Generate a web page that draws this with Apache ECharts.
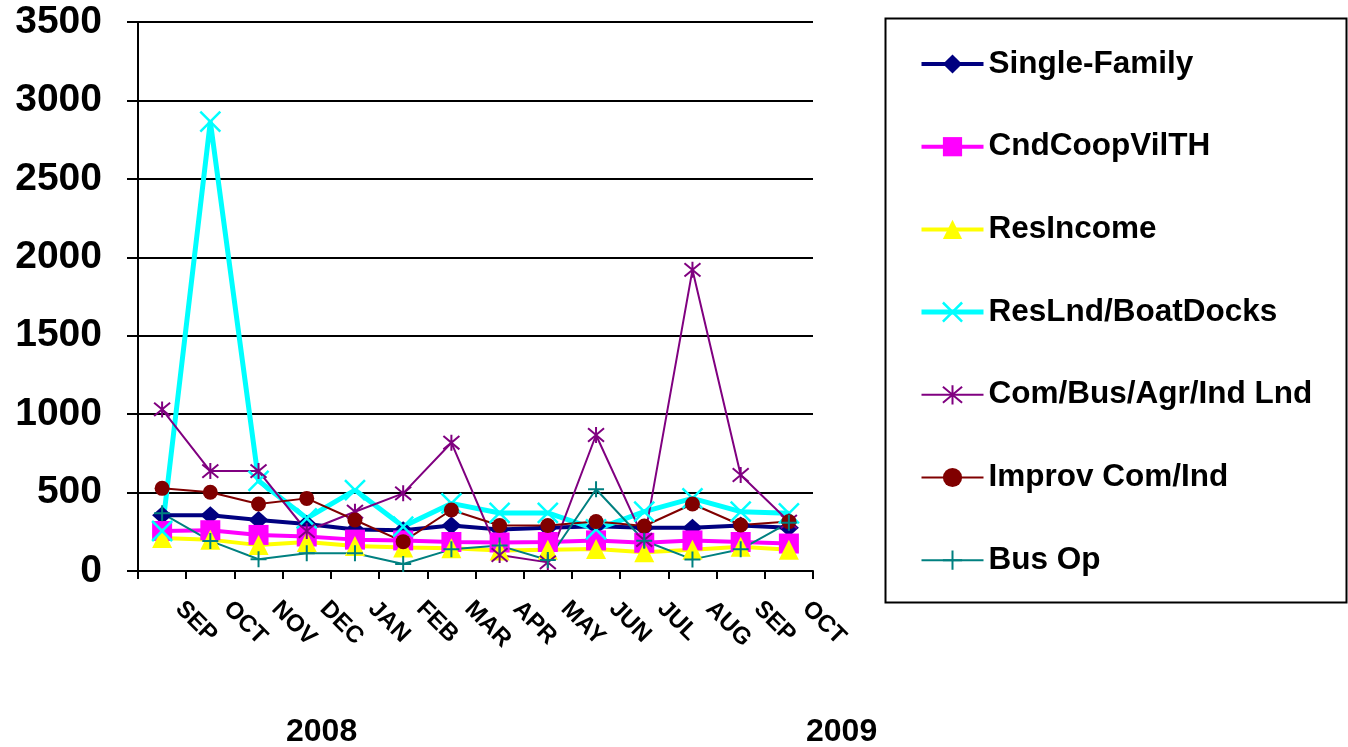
<!DOCTYPE html>
<html>
<head>
<meta charset="utf-8">
<script src="https://cdn.jsdelivr.net/npm/echarts@6/dist/echarts.min.js"></script>
<style>
html,body{margin:0;padding:0;background:#fff;}
#chart{width:1348px;height:747px;}
</style>
</head>
<body>
<div id="chart"></div>
<script>
const months = ['SEP','OCT','NOV','DEC','JAN','FEB','MAR','APR','MAY','JUN','JUL','AUG','SEP','OCT'];
const yearLabels = ['2008','2009'];
const seriesNames = ['Single-Family','CndCoopVilTH','ResIncome','ResLnd/BoatDocks','Com/Bus/Agr/Ind Lnd','Improv Com/Ind','Bus Op'];
const singleFamily = [355, 355, 325, 300, 265, 260, 290, 265, 275, 285, 275, 275, 290, 275];
const cndCoopVilTH = [255, 260, 230, 220, 200, 195, 185, 182, 185, 195, 180, 195, 185, 175];
const resIncome    = [210, 200, 165, 185, 160, 150, 145, 130, 135, 140, 120, 135, 155, 135];
const resLndBoat   = [255, 2865, 575, 336, 516, 283, 431, 370, 370, 265, 378, 463, 378, 368];
const comBusAgrInd = [1030, 637, 637, 255, 378, 495, 818, 102, 55, 867, 198, 1920, 612, 315];
const improvComInd = [527, 502, 427, 463, 325, 187, 389, 290, 290, 315, 287, 427, 293, 315];
const busOp        = [368, 192, 75, 113, 113, 45, 138, 162, 70, 521, 193, 74, 138, 308];
const yTicks = {min: 0, max: 3500, interval: 500};

const X_PATH = 'path://M0,0L20,20M20,0L0,20';
const STAR_PATH = 'path://M0,0L20,20M20,0L0,20M10,-2L10,22';
const PLUS_PATH = 'path://M10,0L10,20M0,10L20,10';

const FONT = "'Liberation Sans',Arial,sans-serif";

const styles = [
  {color: '#000080', width: 4, symbol: 'diamond', size: [20, 18], stroke: 0},
  {color: '#FF00FF', width: 4, symbol: 'rect', size: 20, stroke: 0},
  {color: '#FFFF00', width: 4, symbol: 'triangle', size: 20, stroke: 0},
  {color: '#00FFFF', width: 5, symbol: X_PATH, size: 20, stroke: 2.5},
  {color: '#800080', width: 2, symbol: STAR_PATH, size: 16, stroke: 2},
  {color: '#800000', width: 2, symbol: 'circle', size: 15, stroke: 0},
  {color: '#008080', width: 2, symbol: PLUS_PATH, size: 16, stroke: 2}
];
const dataSets = [singleFamily, cndCoopVilTH, resIncome, resLndBoat, comBusAgrInd, improvComInd, busOp];

function itemStyleOf(s) {
  return s.stroke ? {color: 'rgba(0,0,0,0)', borderColor: s.color, borderWidth: s.stroke} : {color: s.color, borderWidth: 0};
}

const series = seriesNames.map((name, i) => {
  const s = styles[i];
  return {
    name: name, type: 'line', data: dataSets[i],
    symbol: s.symbol, symbolSize: s.size, showAllSymbol: true,
    lineStyle: {color: s.color, width: s.width},
    itemStyle: itemStyleOf(s),
    emphasis: {disabled: true},
    animation: false
  };
});

const legendData = seriesNames.map((name, i) => {
  const s = styles[i];
  return {name: name, lineStyle: {color: s.color, width: s.width}, itemStyle: itemStyleOf(s)};
});

const chart = echarts.init(document.getElementById('chart'));
chart.setOption({
  backgroundColor: '#fff',
  animation: false,
  grid: {left: 138, right: 535, top: 22, bottom: 176},
  xAxis: {
    type: 'category', data: months, boundaryGap: true,
    axisLine: {lineStyle: {color: '#000', width: 2}},
    axisTick: {show: true, length: 8, lineStyle: {color: '#000', width: 2}},
    axisLabel: {
      rotate: -45, margin: 17, interval: 0,
      padding: [0, 0, 0, 24],
      fontFamily: FONT, fontWeight: 'bold', fontSize: 24, color: '#000'
    },
    splitLine: {show: false}
  },
  yAxis: {
    type: 'value', min: yTicks.min, max: yTicks.max, interval: yTicks.interval,
    axisLine: {show: true, lineStyle: {color: '#000', width: 2}},
    axisTick: {show: true, length: 11, lineStyle: {color: '#000', width: 2}},
    axisLabel: {margin: 36, formatter: v => String(v), fontFamily: FONT, fontWeight: 'bold', fontSize: 39, color: '#000'},
    splitLine: {show: true, lineStyle: {color: '#000', width: 2}}
  },
  legend: {
    orient: 'vertical', left: 919, top: 44, padding: 0,
    itemWidth: 62, itemHeight: 24, itemGap: 42.7,
    selectedMode: false,
    data: legendData,
    textStyle: {fontFamily: FONT, fontWeight: 'bold', fontSize: 31.5, lineHeight: 40, color: '#000'}
  },
  graphic: [
    {type: 'rect', left: 883, top: 16, shape: {width: 461, height: 584}, style: {fill: 'none', stroke: '#000', lineWidth: 2}, z: -1},
    {type: 'text', left: 286, top: 716, style: {text: yearLabels[0], font: "bold 32px " + FONT, fill: '#000'}},
    {type: 'text', left: 806, top: 716, style: {text: yearLabels[1], font: "bold 32px " + FONT, fill: '#000'}}
  ],
  series: series
});
</script>
</body>
</html>
